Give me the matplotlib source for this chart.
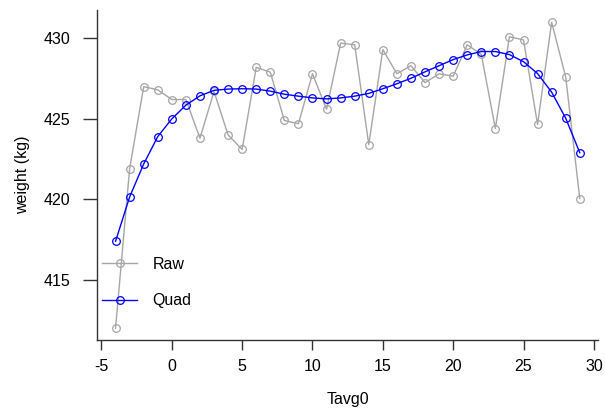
import numpy as np
import matplotlib.pyplot as plt

plt.rcParams['font.family'] = ['Liberation Sans', 'DejaVu Sans']
plt.rcParams['axes.unicode_minus'] = False

tavg = list(range(-4, 30))
raw = [412.0, 421.9, 427.0, 426.8, 426.2, 426.2, 423.8, 426.7, 424.0, 423.1,
       428.2, 427.9, 424.9, 424.7, 427.8, 425.6, 429.7, 429.6, 423.4, 429.3,
       427.8, 428.3, 427.25, 427.8, 427.65, 429.6, 429.0, 424.4, 430.1, 429.9,
       424.65, 431.0, 427.6, 420.05]
quad = [417.4, 420.15, 422.2, 423.9, 425.0, 425.85, 426.43, 426.77, 426.85, 426.87,
        426.85, 426.72, 426.53, 426.41, 426.3, 426.24, 426.3, 426.41, 426.58, 426.87,
        427.18, 427.52, 427.92, 428.3, 428.68, 428.97, 429.18, 429.18, 428.99, 428.55,
        427.81, 426.66, 425.04, 422.9]

fig = plt.figure(figsize=(6.05, 4.09), dpi=100)
ax = fig.add_axes([0.1603, 0.1675, 0.8287, 0.8081])

ax.plot(tavg, raw, color='#a6a6a6', lw=1, marker='o', ms=5.5, mfc='none',
        mec='#a6a6a6', mew=0.9, label='Raw')
ax.plot(tavg, quad, color='blue', lw=1, marker='o', ms=5.5, mfc='none',
        mec='blue', mew=0.9, label='Quad')

# R style: 4% padding, L-shaped box
xr = max(tavg) - min(tavg)
ax.set_xlim(min(tavg) - 0.04 * xr, max(tavg) + 0.04 * xr)
lo, hi = min(raw), max(raw)
ax.set_ylim(lo - 0.04 * (hi - lo), hi + 0.04 * (hi - lo))

ax.set_xticks(range(-5, 31, 5))
ax.set_yticks([415, 420, 425, 430])
ax.spines['top'].set_visible(False)
ax.spines['right'].set_visible(False)
for s in ['left', 'bottom']:
    ax.spines[s].set_color('#333333')
    ax.spines[s].set_linewidth(1.0)
ax.tick_params(direction='out', width=1, color='#333333', labelsize=11.5)
ax.tick_params(axis='x', length=7, pad=6)
ax.tick_params(axis='y', length=10, pad=9)

ax.set_xlabel('Tavg0', fontsize=11.5, labelpad=13)
ax.set_ylabel('weight (kg)', fontsize=11.5, labelpad=10)

ax.legend(loc='upper left', bbox_to_anchor=(0.01, 0.254), frameon=False,
          fontsize=11.5, handlelength=2.2, labelspacing=1.36, handletextpad=0.95,
          borderpad=0, borderaxespad=0)

fig.savefig('out.png', dpi=100)
